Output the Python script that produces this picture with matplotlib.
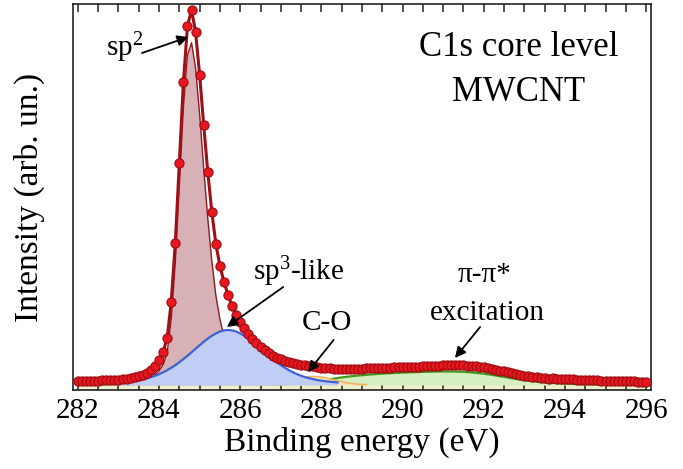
import numpy as np
import matplotlib
matplotlib.use("Agg")
import matplotlib.pyplot as plt

# ---------------- data ----------------
# C1s spectrum sampled every 0.1 eV from 282.0 to 296.0 eV (arb. units)
energy_start, energy_step = 282.0, 0.1
intensity = [
    9.3, 9.4, 9.2, 9.4, 9.5, 9.5, 9.7, 9.8, 10.0, 10.2,
    10.5, 10.9, 11.3, 11.9, 12.6, 13.6, 15.0, 17.2, 20.3, 24.5,
    30.0, 38.0, 52.0, 88.0, 147.0, 227.0, 308.0, 364.0, 380.0, 358.0,
    315.0, 265.0, 218.0, 178.0, 146.0, 124.0, 108.0, 95.0, 84.0, 75.0,
    68.0, 62.0, 56.5, 51.5, 47.0, 43.0, 39.8, 37.0, 34.5, 32.5,
    30.8, 29.3, 28.0, 27.0, 26.2, 25.5, 24.8, 24.2, 23.6, 23.0,
    22.5, 22.1, 21.8, 21.5, 21.3, 21.2, 21.1, 21.1, 21.2, 21.3,
    21.4, 21.6, 21.7, 22.2, 22.0, 22.2, 22.3, 22.5, 22.6, 22.8,
    23.0, 23.1, 23.3, 23.5, 23.4, 23.8, 24.0, 24.2, 24.3, 24.5,
    24.6, 25.1, 24.8, 24.9, 24.8, 24.7, 24.5, 24.2, 23.8, 23.3,
    22.7, 22.0, 21.5, 20.4, 19.5, 18.6, 17.7, 16.8, 16.0, 15.2,
    14.5, 13.9, 13.4, 12.9, 12.5, 12.1, 11.5, 11.6, 11.4, 11.2,
    11.0, 10.8, 10.6, 10.5, 10.3, 10.1, 10.0, 9.9, 9.7, 9.5,
    9.4, 9.3, 9.2, 9.0, 8.9, 8.8, 8.7, 8.6, 8.5, 8.3,
    8.3,
]

# Fitted components (height above the common background level)
background_level = 5.0

sp2_start, sp2_step = 282.0, 0.1
sp2_component = [
    0.4, 0.4, 0.5, 0.5, 0.5, 0.6, 0.6, 0.7, 0.8, 0.9,
    1.0, 1.1, 1.3, 1.5, 1.8, 2.3, 3.0, 4.3, 6.5, 9.8,
    14.2, 20.3, 32.2, 65.8, 122.2, 199.2, 277.1, 329.8, 342.3, 316.8,
    270.3, 216.8, 166.6, 123.8, 89.4, 65.5, 48.4, 35.0, 24.4, 16.5,
    11.4, 7.8, 5.1, 3.3, 2.3, 1.5, 1.2, 1.0, 0.8, 0.6,
    0.5,
]

sp3_start, sp3_step = 282.0, 0.1
sp3_component = [
    1.2, 1.2, 1.3, 1.4, 1.5, 1.6, 1.8, 1.9, 2.1, 2.3,
    2.5, 2.9, 3.3, 3.7, 4.3, 4.9, 5.8, 6.7, 7.8, 9.2,
    10.8, 12.7, 14.8, 17.2, 19.8, 22.8, 25.9, 29.2, 32.7, 36.2,
    39.7, 43.2, 46.4, 49.2, 51.6, 53.5, 54.6, 55.0, 54.6, 53.5,
    51.6, 49.2, 46.4, 43.2, 39.7, 36.2, 32.7, 29.2, 25.9, 22.8,
    19.8, 17.2, 14.8, 12.7, 10.8, 9.2, 7.8, 6.7, 5.8, 4.9,
    4.3, 3.7, 3.3, 2.9, 2.5,
]

co_start, co_step = 286.5, 0.1
co_component = [
    0.33, 0.5, 0.8, 1.23, 1.78, 2.48, 3.32, 4.27, 5.28, 6.27,
    7.17, 7.88, 8.34, 8.5, 8.34, 7.88, 7.17, 6.27, 5.28, 4.27,
    3.32, 2.48, 1.78, 1.23, 0.8, 0.5, 0.33,
]

pi_start, pi_step = 287.0, 0.2
pi_component = [
    0.5, 1.0, 1.6, 2.4, 3.4, 4.6, 5.8, 7.0, 8.1, 9.0,
    9.8, 10.5, 11.1, 11.6, 12.0, 12.4, 12.7, 13.0, 13.2, 13.4,
    13.5, 13.5, 13.3, 12.9, 12.2, 11.3, 10.1, 8.8, 7.4, 6.0,
    4.8, 3.8, 3.0, 2.3, 1.8, 1.4, 1.1, 0.9, 0.7, 0.6,
    0.5, 0.4, 0.35, 0.3, 0.25, 0.2,
]

x_ticks = [282, 284, 286, 288, 290, 292, 294, 296]


def grid(start, step, values):
    return start + step * np.arange(len(values))


energy = grid(energy_start, energy_step, intensity)

# ---------------- style ----------------
plt.rcParams["font.family"] = ["Liberation Serif", "DejaVu Serif"]
plt.rcParams["mathtext.fontset"] = "custom"
plt.rcParams["mathtext.rm"] = "Liberation Serif"
plt.rcParams["mathtext.it"] = "Liberation Serif:italic"

fig = plt.figure(figsize=(6.83, 4.69), dpi=100)
ax = fig.add_axes([73 / 683, 1 - 390 / 469, (651 - 73) / 683, (390 - 4) / 469])

# background strip below all components
ax.fill_between(energy, 0, background_level, color="#eef0cc", lw=0, zorder=1)

components = [
    # (start, step, values, fill colour, edge colour, edge width, zorder)
    (pi_start, pi_step, pi_component, "#d5efc2", "#3f9a1c", 1.6, 2),
    (co_start, co_step, co_component, "#fbe2bd", "#f0b45a", 1.2, 3),
    (sp2_start, sp2_step, sp2_component, "#d7b1b6", "#8e1b22", 1.0, 4),
    (sp3_start, sp3_step, sp3_component, "#c0cef6", "#3d62d6", 1.6, 5),
]
for start, step, vals, fc, ec, lw, z in components:
    e = grid(start, step, vals)
    top = background_level + np.asarray(vals)
    ax.fill_between(e, background_level, top, color=fc, lw=0, zorder=z)
    ax.plot(e, top, color=ec, lw=lw, zorder=z + 0.1)

# measured spectrum with fit envelope
ax.plot(energy, intensity, color="#9e0f18", lw=2.2, zorder=7)
ax.plot(energy, intensity, ls="none", marker="o", ms=6.6,
        mfc="#e8171f", mec="#9a0c12", mew=0.8, zorder=8)

# ---------------- axes ----------------
ax.set_xlim(281.88, 296.12)
ax.set_ylim(0, 386)
ax.set_xticks(x_ticks)
ax.set_xticks(np.arange(282, 296.01, 0.5), minor=True)
ax.set_yticks([])
ax.tick_params(axis="x", which="both", direction="in", top=True, bottom=True,
               length=6, width=1.1, labelsize=21, pad=6, color="#222222")
for sp in ax.spines.values():
    sp.set_linewidth(1.2)
    sp.set_color("#222222")

ax.set_xlabel("Binding energy (eV)", fontsize=24, labelpad=2)
ax.set_ylabel("Intensity (arb. un.)", fontsize=24, labelpad=20)

# ---------------- labels and arrows ----------------
arrow = dict(arrowstyle="-|>", color="black", lw=1.3, mutation_scale=16,
             shrinkA=0, shrinkB=0)

ax.text(283.14, 342, "sp$^2$", fontsize=21, ha="center", va="center", zorder=10)
ax.annotate("", xy=(284.72, 353), xytext=(283.58, 337), arrowprops=arrow, zorder=10)

ax.text(287.45, 118, "sp$^3$-like", fontsize=21, ha="center", va="center", zorder=10)
ax.annotate("", xy=(285.67, 63), xytext=(287.06, 103), arrowprops=arrow, zorder=10)

ax.text(288.14, 67, "C-O", fontsize=21, ha="center", va="center", zorder=10)
ax.annotate("", xy=(287.67, 18), xytext=(288.30, 50), arrowprops=arrow, zorder=10)

ax.text(292.03, 115, "π-π*", fontsize=21, ha="center", va="center", zorder=10)
ax.text(292.08, 77, "excitation", fontsize=21, ha="center", va="center", zorder=10)
ax.annotate("", xy=(291.29, 32), xytext=(291.91, 63), arrowprops=arrow, zorder=10)

ax.text(292.85, 343, "C1s core level", fontsize=25, ha="center", va="center", zorder=10)
ax.text(292.85, 298, "MWCNT", fontsize=25, ha="center", va="center", zorder=10)

fig.savefig("out.png", dpi=100)
